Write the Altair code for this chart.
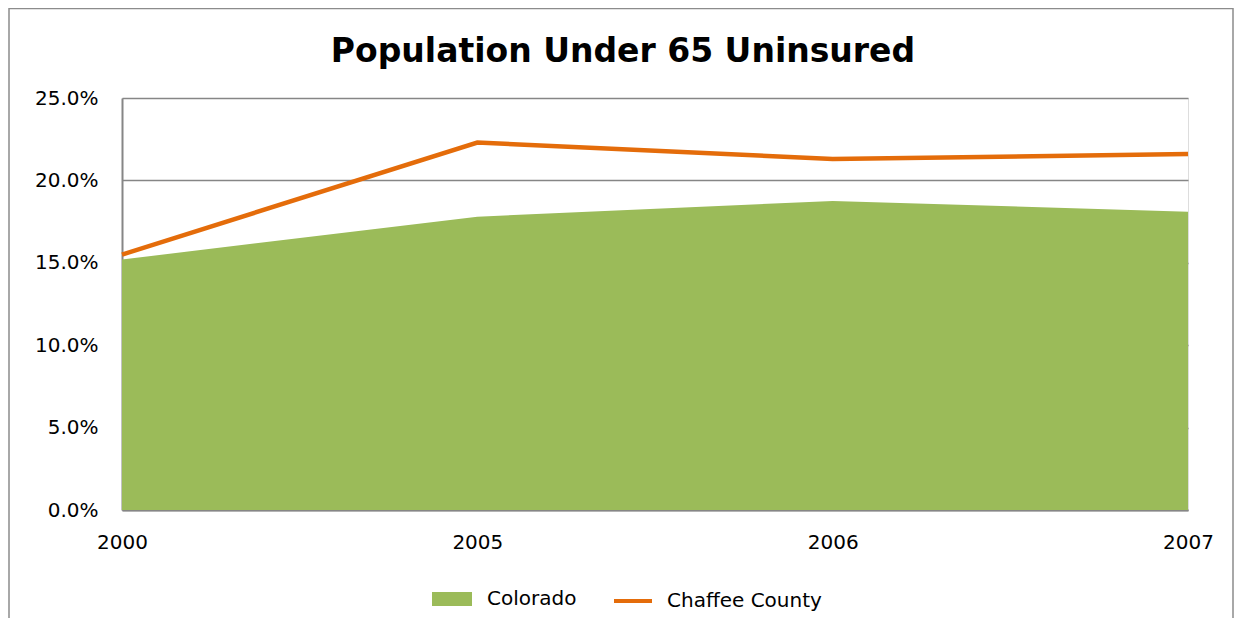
import altair as alt
import pandas as pd

years = ["2000", "2005", "2006", "2007"]
colorado = [0.152, 0.178, 0.1875, 0.181]
chaffee = [0.155, 0.223, 0.213, 0.216]
y_ticks = [0.0, 0.05, 0.10, 0.15, 0.20, 0.25]

GREEN = "#9BBB59"
ORANGE = "#E46C0A"
GRID = "#868686"
FONT = "DejaVu Sans"

co_df = pd.DataFrame({"year": years, "value": colorado, "series": ["Colorado"] * len(years)})
ch_df = pd.DataFrame({"year": years, "value": chaffee, "series": ["Chaffee County"] * len(years)})

x_enc = alt.X(
    "year:O",
    sort=years,
    scale=alt.Scale(type="point", padding=0),
    axis=alt.Axis(title=None, labelAngle=0, ticks=False, labelPadding=22,
                  labelFontSize=20, labelFont=FONT, labelColor="#000000",
                  domainColor=GRID, domainWidth=2, grid=False),
)
y_enc = alt.Y(
    "value:Q",
    scale=alt.Scale(domain=[0, 0.25], nice=False),
    axis=alt.Axis(title=None, values=y_ticks, format=".1%", ticks=False, labelPadding=24,
                  labelFontSize=20, labelFont=FONT, labelColor="#000000",
                  domainColor=GRID, domainWidth=2, grid=True, gridColor=GRID, gridWidth=1.5),
)

area = alt.Chart(co_df).mark_area(opacity=1).encode(
    x=x_enc,
    y=y_enc,
    fill=alt.Fill(
        "series:N",
        scale=alt.Scale(domain=["Colorado"], range=[GREEN]),
        legend=alt.Legend(
            title=None, orient="none", legendX=310, legendY=481,
            symbolType="M-1,-0.35H1V0.35H-1Z", symbolSize=1600, symbolStrokeWidth=0,
            symbolOpacity=1, labelOffset=15, labelFontSize=20, labelFont=FONT,
            labelColor="#000000",
        ),
    ),
)

line = alt.Chart(ch_df).mark_line(strokeWidth=4.5).encode(
    x=alt.X("year:O", sort=years),
    y=alt.Y("value:Q"),
    stroke=alt.Stroke(
        "series:N",
        scale=alt.Scale(domain=["Chaffee County"], range=[ORANGE]),
        legend=alt.Legend(
            title=None, orient="none", legendX=490, legendY=482,
            symbolType="stroke", symbolSize=1444, symbolStrokeWidth=4,
            labelOffset=13, labelFontSize=20, labelFont=FONT, labelColor="#000000",
        ),
    ),
)

border = alt.Chart(pd.DataFrame({"b": [0]})).mark_rect(
    filled=False, stroke="#8c8c8c", strokeWidth=1.5
).encode(
    x=alt.value(-113), x2=alt.value(1111), y=alt.value(-89.5), y2=alt.value(530)
)

chart = alt.layer(border, area, line).resolve_scale(fill="independent", stroke="independent").properties(
    width=1066,
    height=412,
    autosize=alt.AutoSizeParams(type="none"),
    padding={"left": 114, "top": 90, "right": 46, "bottom": 108},
    title=alt.TitleParams(
        "Population Under 65 Uninsured",
        font=FONT, fontSize=33, fontWeight="bold", color="#000000",
        anchor="middle", dx=-32, dy=111, baseline="alphabetic", offset=24,
    ),
).configure_view(stroke=None).configure(background="white")

chart.save("out.html", embed_options={"renderer": "svg", "actions": False})
